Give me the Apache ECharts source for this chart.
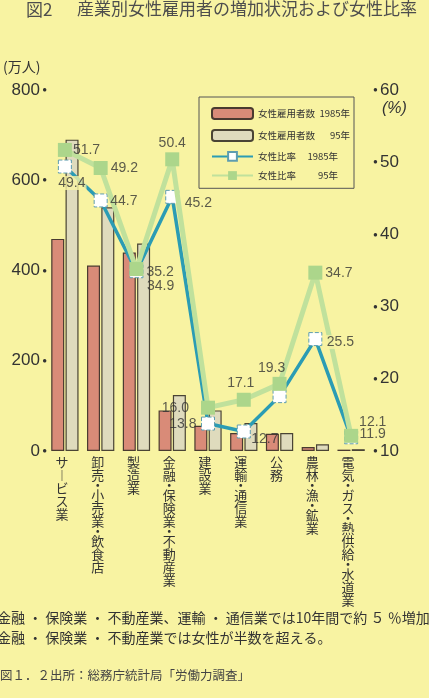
<!DOCTYPE html>
<html><head><meta charset="utf-8">
<script src="https://cdn.jsdelivr.net/npm/echarts@6/dist/echarts.min.js"></script>
<style>html,body{margin:0;padding:0;background:#f8f3a2;} #c{width:429px;height:698px;}</style>
</head><body><div id="c"></div>
<script>
// ---- data ----
const categories = ['サービス業','卸売・小売業・飲食店','製造業','金融・保険業・不動産業','建設業','運輸・通信業','公務','農林・漁・鉱業','電気・ガス・熱供給・水道業'];
const employed1985 = [470, 411, 440, 90, 56, 40, 38, 9, 3];
const employed1995 = [690, 540, 460, 124, 90, 62, 40, 15, 4];
const ratio1985 = [49.4, 44.7, 34.9, 45.2, 13.8, 12.7, 17.6, 25.5, 11.9];
const ratio1995 = [51.7, 49.2, 35.2, 50.4, 16.0, 17.1, 19.3, 34.7, 12.1];
const ratio1985Shown = [true, true, true, true, true, true, false, true, true];
const leftTicks = [0, 200, 400, 600, 800];
const rightTicks = [10, 20, 30, 40, 50, 60];
const seriesNames = ['女性雇用者数 1985年', '女性雇用者数 95年', '女性比率 1985年', '女性比率 95年'];

// ---- label layout (styles) ----
const pos1995 = [['right',[-4,0]],['right',[-2,0]],['right',[-2,3]],['top',[0,3]],['left',[-7,0]],['top',[-3,2]],['top',[-8,3]],['right',[-2,0]],['right',[-4,-14]]];
const pos1985 = [['bottom',[7,-2]],['right',[-2,1]],['right',[-1,15]],['right',[1,6]],['left',[0,1]],['right',[-4,8]],['right',[0,0]],['right',[-1,3]],['right',[-3,-3]]];
const knock1995 = [false,false,false,false,false,false,false,false,false];
const knock1985 = [true,false,false,false,false,false,false,true,false];

const BG = '#f8f3a2';
const TXT = '#333';
const NUMF = "'Liberation Sans', Arial, 'Noto Sans CJK JP', sans-serif";
const JPF = "'Noto Sans CJK JP', sans-serif";

function vert(s){
  return s.split('').map(c => c === '・' ? '{d|・}' : (c === 'ー' ? '︱' : c)).join('\n');
}

const chart = echarts.init(document.getElementById('c'), null, {renderer:'canvas'});

function labelData(values, pos, knock, shown){
  return values.map((v,i) => ({value:v, label:{
    show: shown ? shown[i] : true, color:TXT, fontSize:14, fontFamily:NUMF,
    formatter: p => Number(p.value).toFixed(1),
    position:pos[i][0], offset:pos[i][1],
    backgroundColor: knock[i] ? BG : 'transparent', padding: knock[i] ? [0,1] : 0
  }}));
}

const option = {
  backgroundColor: BG,
  animation: false,
  grid: {left:47, right:60, top:90, bottom:247},
  legend: {
    orient:'vertical', left:199, top:97,
    padding:[10,4,8,12], itemGap:9, itemWidth:41, itemHeight:11,
    borderColor:'#555', borderWidth:1,
    data: seriesNames,
    formatter: function(name){
      const i = seriesNames.indexOf(name);
      const parts = name.split(' ');
      return i < 2 ? '{a|' + parts[0] + '}{b|' + parts[1] + '}' : '{c|' + parts[0] + '}{e|' + parts[1] + '}';
    },
    textStyle: {
      fontFamily: JPF, fontSize:9.5, color:TXT,
      rich: {a:{width:63, fontSize:9.5}, b:{width:29, align:'right', fontSize:9.5}, c:{width:50, fontSize:9.5}, e:{width:30, align:'right', fontSize:9.5}}
    }
  },
  xAxis: {
    type:'category', data:categories,
    axisLine:{show:false}, axisTick:{show:false},
    axisLabel:{
      interval:0, margin:5, color:TXT, fontFamily:JPF, fontSize:13, lineHeight:13,
      verticalAlign:'top', padding:[0,6,0,0],
      formatter: v => vert(v),
      rich:{d:{fontSize:13, lineHeight:7, fontFamily:JPF, color:TXT}}
    }
  },
  yAxis: [
    {type:'value', min:leftTicks[0], max:leftTicks[leftTicks.length-1], interval:leftTicks[1]-leftTicks[0],
     axisLine:{show:false}, axisTick:{show:false}, splitLine:{show:false},
     axisLabel:{margin:0, formatter: v => '{n|' + v + '}{d| ●}',
       rich:{n:{fontSize:17, fontFamily:NUMF, color:TXT}, d:{fontSize:8, color:TXT, fontFamily:NUMF}}}},
    {type:'value', min:rightTicks[0], max:rightTicks[rightTicks.length-1], interval:rightTicks[1]-rightTicks[0],
     axisLine:{show:false}, axisTick:{show:false}, splitLine:{show:false},
     axisLabel:{margin:4, formatter: v => '{d|● }{n|' + v + '}',
       rich:{n:{fontSize:17, fontFamily:NUMF, color:TXT}, d:{fontSize:8, color:TXT, fontFamily:NUMF}}}}
  ],
  series: [
    {name:seriesNames[0], type:'bar', data:employed1985, barWidth:13, barGap:'10%',
     itemStyle:{color:'#d98b78', borderColor:'#4a3a30', borderWidth:1.2}, z:2},
    {name:seriesNames[1], type:'bar', data:employed1995, barWidth:13, barGap:'10%',
     itemStyle:{color:'#dfdbbd', borderColor:'#4a4435', borderWidth:1.2}, z:2},
    {name:seriesNames[2], type:'line', yAxisIndex:1, z:4, data:ratio1985,
     symbol:'rect', symbolSize:13,
     lineStyle:{color:'#2b9cb4', width:3.5},
     itemStyle:{color:'#ffffff', borderColor:'#5e9db0', borderWidth:1, borderType:'dashed'}},
    {name:seriesNames[3], type:'line', yAxisIndex:1, z:5, data:ratio1995,
     symbol:'rect', symbolSize:14,
     lineStyle:{color:'#c0e19c', width:5},
     itemStyle:{color:'#acd68b', borderColor:'#acd68b', borderWidth:0}},
    {name:'labels1985', type:'scatter', yAxisIndex:1, z:10, symbol:'rect', symbolSize:13,
     itemStyle:{color:'rgba(0,0,0,0)'}, silent:true,
     data: labelData(ratio1985, pos1985, knock1985, ratio1985Shown)},
    {name:'labels1995', type:'scatter', yAxisIndex:1, z:10, symbol:'rect', symbolSize:14,
     itemStyle:{color:'rgba(0,0,0,0)'}, silent:true,
     data: labelData(ratio1995, pos1995, knock1995, null)}
  ],
  graphic: [
    {type:'text', left:26, top:1, style:{text:'図2', font:"17px 'Noto Sans CJK JP'", fill:'#4d4d4d'}},
    {type:'text', left:77, top:0, style:{text:'産業別女性雇用者の増加状況および女性比率', font:"17px 'Noto Sans CJK JP'", fill:'#4d4d4d'}},
    {type:'text', left:3, top:60, style:{text:'(万人)', font:"14px 'Noto Sans CJK JP'", fill:TXT}},
    {type:'text', left:382, top:101, style:{text:'(%)', font:"italic 16px 'Liberation Sans'", fill:TXT}},
    {type:'text', left:-3, top:611, style:{text:'金融 ・ 保険業 ・ 不動産業、運輸 ・ 通信業では10年間で約 ５ ％増加', font:"14px 'Noto Sans CJK JP'", fill:TXT}},
    {type:'text', left:-3, top:631, style:{text:'金融 ・ 保険業 ・ 不動産業では女性が半数を超える。', font:"14px 'Noto Sans CJK JP'", fill:TXT}},
    {type:'text', left:0, top:669, style:{text:'図１．２出所：総務庁統計局「労働力調査」', font:"12.5px 'Noto Sans CJK JP'", fill:'#444'}}
  ]
};
chart.setOption(option);
</script>
</body></html>
